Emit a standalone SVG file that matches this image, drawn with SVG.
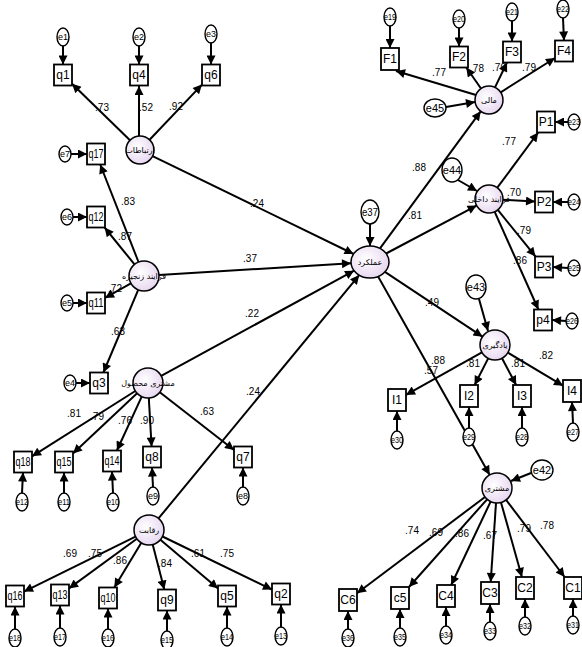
<svg xmlns="http://www.w3.org/2000/svg" width="582" height="647" viewBox="0 0 582 647">
<defs>
<marker id="ah" viewBox="0 0 10 10" refX="10" refY="5" markerWidth="11" markerHeight="9" markerUnits="userSpaceOnUse" orient="auto"><path d="M0,0 L10,5 L0,10 z" fill="#000"/></marker>
<radialGradient id="lg" cx="0.4" cy="0.4" r="0.7"><stop offset="0" stop-color="#ffffff"/><stop offset="1" stop-color="#e4d2ee"/></radialGradient>
</defs>
<style>
.c line{stroke:#000;stroke-width:2;marker-end:url(#ah)}
.box rect{fill:#fff;stroke:#000;stroke-width:1.8}
.box text{font-family:"Liberation Sans Narrow","Liberation Sans",sans-serif;font-size:12px;text-anchor:middle}
.lat circle,.lat ellipse{fill:url(#lg);stroke:#000;stroke-width:1.5}
.lat text{font-family:"DejaVu Sans",sans-serif;font-size:8px;text-anchor:middle}
.err ellipse{fill:#fff;stroke:#000;stroke-width:1.4}
.err text{font-family:"Liberation Sans Narrow","Liberation Sans",sans-serif;font-size:9px;text-anchor:middle}
.big text{font-size:11px}
.lb{font-family:"Liberation Sans Narrow","Liberation Sans",sans-serif;font-size:10px;text-anchor:middle}
</style>
<rect width="582" height="647" fill="#fff"/>
<g id="connectors" class="c">
<line x1="152.6" y1="156.1" x2="353.6" y2="254"/>
<line x1="159" y1="275.1" x2="351" y2="263.2"/>
<line x1="161.2" y1="375.8" x2="354.1" y2="270.7"/>
<line x1="158.5" y1="518.4" x2="359.2" y2="275.1"/>
<line x1="380" y1="248.4" x2="480.7" y2="111.3"/>
<line x1="386.1" y1="253.5" x2="476.6" y2="205.6"/>
<line x1="384.9" y1="271.9" x2="482.5" y2="336.7"/>
<line x1="378.1" y1="276.5" x2="489.7" y2="474.9"/>
<line x1="130" y1="140.2" x2="72" y2="83.7"/>
<line x1="139" y1="136" x2="139" y2="86"/>
<line x1="149.6" y1="139.8" x2="202" y2="84.6"/>
<line x1="138.5" y1="262" x2="100.2" y2="164.5"/>
<line x1="134.5" y1="264.4" x2="104.6" y2="227.5"/>
<line x1="130.9" y1="283.4" x2="105" y2="297.9"/>
<line x1="138.2" y1="289.8" x2="103.4" y2="372.5"/>
<line x1="135.3" y1="391" x2="32" y2="456.3"/>
<line x1="137.1" y1="393.3" x2="73" y2="453.5"/>
<line x1="141.7" y1="396.6" x2="116.9" y2="450.5"/>
<line x1="148.8" y1="398" x2="151.6" y2="446.5"/>
<line x1="159.8" y1="392.2" x2="234" y2="450"/>
<line x1="135.5" y1="536.6" x2="24" y2="591.6"/>
<line x1="136.9" y1="538.8" x2="69" y2="588.4"/>
<line x1="141.3" y1="542.8" x2="114.3" y2="587.5"/>
<line x1="152.7" y1="544.5" x2="164.3" y2="589.5"/>
<line x1="160.4" y1="539.7" x2="218" y2="588.4"/>
<line x1="162.5" y1="536.5" x2="272" y2="589.6"/>
<line x1="476" y1="95" x2="396" y2="71"/>
<line x1="481" y1="88.5" x2="466.3" y2="67.5"/>
<line x1="495" y1="87.4" x2="507" y2="62.5"/>
<line x1="500.7" y1="92.3" x2="555" y2="58"/>
<line x1="497.3" y1="187.7" x2="538.2" y2="132.5"/>
<line x1="503" y1="199.8" x2="535" y2="201.5"/>
<line x1="497.8" y1="209.9" x2="535.5" y2="256.5"/>
<line x1="494.7" y1="211.8" x2="538.4" y2="309.5"/>
<line x1="481.9" y1="352.3" x2="406" y2="394.9"/>
<line x1="488.2" y1="358.4" x2="474.6" y2="385"/>
<line x1="502" y1="358.3" x2="516.2" y2="385"/>
<line x1="507.9" y1="352.7" x2="563" y2="385.7"/>
<line x1="485" y1="497" x2="357" y2="593.3"/>
<line x1="487.1" y1="499.3" x2="409" y2="587"/>
<line x1="490.6" y1="501.6" x2="451.2" y2="585"/>
<line x1="496" y1="503" x2="490.7" y2="582"/>
<line x1="501" y1="502.4" x2="521.9" y2="577"/>
<line x1="506.1" y1="499.9" x2="564.6" y2="577"/>
<line x1="370" y1="224" x2="370" y2="246"/>
<line x1="446" y1="107" x2="475" y2="102"/>
<line x1="458" y1="180" x2="477" y2="191"/>
<line x1="479" y1="299" x2="488" y2="331"/>
<line x1="531" y1="473" x2="511" y2="481"/>
<line x1="63" y1="46" x2="63" y2="64.5"/>
<line x1="139" y1="46" x2="139" y2="64.5"/>
<line x1="211" y1="43" x2="211" y2="64.5"/>
<line x1="71" y1="154" x2="87" y2="154"/>
<line x1="73" y1="217" x2="87" y2="217"/>
<line x1="73" y1="303" x2="87" y2="303"/>
<line x1="76" y1="383" x2="90" y2="383"/>
<line x1="22" y1="493" x2="23" y2="472.5"/>
<line x1="64" y1="493" x2="64" y2="472.5"/>
<line x1="113" y1="493" x2="112" y2="471.5"/>
<line x1="153" y1="487" x2="152" y2="467.5"/>
<line x1="243" y1="487" x2="243" y2="467.5"/>
<line x1="15" y1="629" x2="15" y2="606.5"/>
<line x1="60" y1="628" x2="60" y2="605.5"/>
<line x1="108" y1="629" x2="108" y2="608.5"/>
<line x1="167" y1="631" x2="167" y2="610.5"/>
<line x1="227" y1="628" x2="227" y2="606.5"/>
<line x1="281" y1="627" x2="281" y2="604.5"/>
<line x1="390" y1="26" x2="390" y2="48"/>
<line x1="459" y1="28" x2="459" y2="46.5"/>
<line x1="512" y1="21" x2="512" y2="41.5"/>
<line x1="563" y1="18" x2="564" y2="40.5"/>
<line x1="568" y1="122" x2="555" y2="122"/>
<line x1="568" y1="202" x2="553" y2="202"/>
<line x1="568" y1="268" x2="553" y2="267"/>
<line x1="566" y1="321" x2="552" y2="320"/>
<line x1="397" y1="431" x2="397" y2="411"/>
<line x1="469" y1="428" x2="469" y2="407"/>
<line x1="522" y1="428" x2="522" y2="407"/>
<line x1="573" y1="423" x2="572" y2="402"/>
<line x1="348" y1="631" x2="348" y2="611"/>
<line x1="400" y1="628" x2="400" y2="609"/>
<line x1="446" y1="626" x2="446" y2="607"/>
<line x1="490" y1="622" x2="490" y2="604"/>
<line x1="525" y1="617" x2="525" y2="599"/>
<line x1="573" y1="616" x2="573" y2="599"/>
</g>
<g id="labels">
<text class="lb" x="102" y="111">.73</text>
<text class="lb" x="146" y="111">.52</text>
<text class="lb" x="176" y="110">.92</text>
<text class="lb" x="128" y="205">.83</text>
<text class="lb" x="125" y="240">.87</text>
<text class="lb" x="115" y="292">.72</text>
<text class="lb" x="118" y="335">.63</text>
<text class="lb" x="257" y="207">.24</text>
<text class="lb" x="250" y="262">.37</text>
<text class="lb" x="252" y="317">.22</text>
<text class="lb" x="253" y="395">.24</text>
<text class="lb" x="74" y="417">.81</text>
<text class="lb" x="97" y="420">.79</text>
<text class="lb" x="125" y="424">.76</text>
<text class="lb" x="147" y="424">.90</text>
<text class="lb" x="207" y="415">.63</text>
<text class="lb" x="70" y="557">.69</text>
<text class="lb" x="95" y="557">.75</text>
<text class="lb" x="120" y="564">.86</text>
<text class="lb" x="165" y="567">.84</text>
<text class="lb" x="198" y="557">.61</text>
<text class="lb" x="227" y="557">.75</text>
<text class="lb" x="439" y="76">.77</text>
<text class="lb" x="477" y="72">.78</text>
<text class="lb" x="499" y="71">.70</text>
<text class="lb" x="529" y="71">.79</text>
<text class="lb" x="419" y="171">.88</text>
<text class="lb" x="415" y="219">.81</text>
<text class="lb" x="509" y="145">.77</text>
<text class="lb" x="514" y="196">.70</text>
<text class="lb" x="524" y="234">.79</text>
<text class="lb" x="520" y="264">.86</text>
<text class="lb" x="432" y="306">.49</text>
<text class="lb" x="431" y="374">.57</text>
<text class="lb" x="438" y="364">.88</text>
<text class="lb" x="473" y="367">.81</text>
<text class="lb" x="518" y="367">.81</text>
<text class="lb" x="546" y="359">.82</text>
<text class="lb" x="412" y="534">.74</text>
<text class="lb" x="436" y="536">.69</text>
<text class="lb" x="462" y="537">.86</text>
<text class="lb" x="490" y="539">.67</text>
<text class="lb" x="524" y="532">.79</text>
<text class="lb" x="547" y="529">.78</text>
</g>
<g id="latent-ert" class="lat"><circle cx="140" cy="150" r="14"/><text x="140" y="153">ارتباطات</text></g>
<g id="latent-zanjire" class="lat"><circle cx="144" cy="276" r="15"/><text x="144" y="279">فرایند زنجیره</text></g>
<g id="latent-mahsool" class="lat"><circle cx="148" cy="383" r="15"/><text x="148" y="386">مشتری محصول</text></g>
<g id="latent-reghabat" class="lat"><circle cx="149" cy="530" r="15"/><text x="149" y="533">رقابت</text></g>
<g id="latent-amalkard" class="lat"><ellipse cx="370" cy="262" rx="19" ry="16"/><text x="370" y="265">عملکرد</text></g>
<g id="latent-mali" class="lat"><circle cx="489" cy="100" r="14"/><text x="489" y="103">مالی</text></g>
<g id="latent-dakheli" class="lat"><circle cx="489" cy="199" r="14"/><text x="489" y="202">فرایند داخلی</text></g>
<g id="latent-yadgiri" class="lat"><circle cx="495" cy="345" r="15"/><text x="495" y="348">یادگیری</text></g>
<g id="latent-moshtari" class="lat"><circle cx="497" cy="488" r="15"/><text x="497" y="491">مشتری</text></g>
<g id="q1" class="box"><rect x="54" y="64.5" width="18" height="21"/><text x="63" y="79">q1</text></g>
<g id="q4" class="box"><rect x="130" y="64.5" width="18" height="21"/><text x="139" y="79">q4</text></g>
<g id="q6" class="box"><rect x="202" y="64.5" width="18" height="21"/><text x="211" y="79">q6</text></g>
<g id="q17" class="box"><rect x="87" y="143.5" width="18" height="21"/><text x="96" y="158" textLength="15" lengthAdjust="spacingAndGlyphs">q17</text></g>
<g id="q12" class="box"><rect x="87" y="206.5" width="18" height="21"/><text x="96" y="221" textLength="15" lengthAdjust="spacingAndGlyphs">q12</text></g>
<g id="q11" class="box"><rect x="87" y="292.5" width="18" height="21"/><text x="96" y="307" textLength="15" lengthAdjust="spacingAndGlyphs">q11</text></g>
<g id="q3" class="box"><rect x="90" y="372.5" width="18" height="21"/><text x="99" y="387">q3</text></g>
<g id="q18" class="box"><rect x="14" y="451.5" width="18" height="21"/><text x="23" y="466" textLength="15" lengthAdjust="spacingAndGlyphs">q18</text></g>
<g id="q15" class="box"><rect x="55" y="451.5" width="18" height="21"/><text x="64" y="466" textLength="15" lengthAdjust="spacingAndGlyphs">q15</text></g>
<g id="q14" class="box"><rect x="103" y="450.5" width="18" height="21"/><text x="112" y="465" textLength="15" lengthAdjust="spacingAndGlyphs">q14</text></g>
<g id="q8" class="box"><rect x="143" y="446.5" width="18" height="21"/><text x="152" y="461">q8</text></g>
<g id="q7" class="box"><rect x="234" y="446.5" width="18" height="21"/><text x="243" y="461">q7</text></g>
<g id="q16" class="box"><rect x="6" y="585.5" width="18" height="21"/><text x="15" y="600" textLength="15" lengthAdjust="spacingAndGlyphs">q16</text></g>
<g id="q13" class="box"><rect x="51" y="584.5" width="18" height="21"/><text x="60" y="599" textLength="15" lengthAdjust="spacingAndGlyphs">q13</text></g>
<g id="q10" class="box"><rect x="99" y="587.5" width="18" height="21"/><text x="108" y="602" textLength="15" lengthAdjust="spacingAndGlyphs">q10</text></g>
<g id="q9" class="box"><rect x="158" y="589.5" width="18" height="21"/><text x="167" y="604">q9</text></g>
<g id="q5" class="box"><rect x="218" y="585.5" width="18" height="21"/><text x="227" y="600">q5</text></g>
<g id="q2" class="box"><rect x="272" y="583.5" width="18" height="21"/><text x="281" y="598">q2</text></g>
<g id="F1" class="box"><rect x="381" y="48" width="18" height="22"/><text x="390" y="63">F1</text></g>
<g id="F2" class="box"><rect x="450" y="46.5" width="18" height="21"/><text x="459" y="61">F2</text></g>
<g id="F3" class="box"><rect x="503" y="41.5" width="18" height="21"/><text x="512" y="56">F3</text></g>
<g id="F4" class="box"><rect x="555" y="40.5" width="18" height="21"/><text x="564" y="55">F4</text></g>
<g id="P1" class="box"><rect x="537" y="111.5" width="18" height="21"/><text x="546" y="126">P1</text></g>
<g id="P2" class="box"><rect x="535" y="191.5" width="18" height="21"/><text x="544" y="206">P2</text></g>
<g id="P3" class="box"><rect x="535" y="256.5" width="18" height="21"/><text x="544" y="271">P3</text></g>
<g id="p4" class="box"><rect x="534" y="309.5" width="18" height="21"/><text x="543" y="324">p4</text></g>
<g id="I1" class="box"><rect x="388" y="389" width="18" height="22"/><text x="397" y="404">I1</text></g>
<g id="I2" class="box"><rect x="460" y="385" width="18" height="22"/><text x="469" y="400">I2</text></g>
<g id="I3" class="box"><rect x="513" y="385" width="18" height="22"/><text x="522" y="400">I3</text></g>
<g id="I4" class="box"><rect x="563" y="380" width="18" height="22"/><text x="572" y="395">I4</text></g>
<g id="C6" class="box"><rect x="339" y="589" width="18" height="22"/><text x="348" y="604">C6</text></g>
<g id="c5" class="box"><rect x="391" y="587" width="18" height="22"/><text x="400" y="602">c5</text></g>
<g id="C4" class="box"><rect x="437" y="585" width="18" height="22"/><text x="446" y="600">C4</text></g>
<g id="C3" class="box"><rect x="481" y="582" width="18" height="22"/><text x="490" y="597">C3</text></g>
<g id="C2" class="box"><rect x="516" y="577" width="18" height="22"/><text x="525" y="592">C2</text></g>
<g id="C1" class="box"><rect x="564" y="577" width="18" height="22"/><text x="573" y="592">C1</text></g>
<g id="e1" class="err"><ellipse cx="63" cy="37" rx="6" ry="9"/><text x="63" y="40">e1</text></g>
<g id="e2" class="err"><ellipse cx="139" cy="37" rx="6" ry="9"/><text x="139" y="40">e2</text></g>
<g id="e3" class="err"><ellipse cx="211" cy="34" rx="6" ry="9"/><text x="211" y="37">e3</text></g>
<g id="e7" class="err"><ellipse cx="65" cy="154" rx="6" ry="8"/><text x="65" y="157">e7</text></g>
<g id="e6" class="err"><ellipse cx="67" cy="217" rx="6" ry="8"/><text x="67" y="220">e6</text></g>
<g id="e5" class="err"><ellipse cx="67" cy="303" rx="6" ry="8"/><text x="67" y="306">e5</text></g>
<g id="e4" class="err"><ellipse cx="70" cy="383" rx="6" ry="8"/><text x="70" y="386">e4</text></g>
<g id="e12" class="err"><ellipse cx="22" cy="502" rx="6" ry="9"/><text x="22" y="505" textLength="12" lengthAdjust="spacingAndGlyphs">e12</text></g>
<g id="e11" class="err"><ellipse cx="64" cy="502" rx="6" ry="9"/><text x="64" y="505" textLength="12" lengthAdjust="spacingAndGlyphs">e11</text></g>
<g id="e10" class="err"><ellipse cx="113" cy="502" rx="6" ry="9"/><text x="113" y="505" textLength="12" lengthAdjust="spacingAndGlyphs">e10</text></g>
<g id="e9" class="err"><ellipse cx="153" cy="496" rx="6" ry="9"/><text x="153" y="499">e9</text></g>
<g id="e8" class="err"><ellipse cx="243" cy="496" rx="6" ry="9"/><text x="243" y="499">e8</text></g>
<g id="e18" class="err"><ellipse cx="15" cy="638" rx="6" ry="9"/><text x="15" y="641" textLength="12" lengthAdjust="spacingAndGlyphs">e18</text></g>
<g id="e17" class="err"><ellipse cx="60" cy="637" rx="6" ry="9"/><text x="60" y="640" textLength="12" lengthAdjust="spacingAndGlyphs">e17</text></g>
<g id="e16" class="err"><ellipse cx="108" cy="638" rx="6" ry="9"/><text x="108" y="641" textLength="12" lengthAdjust="spacingAndGlyphs">e16</text></g>
<g id="e15" class="err"><ellipse cx="167" cy="640" rx="6" ry="9"/><text x="167" y="643" textLength="12" lengthAdjust="spacingAndGlyphs">e15</text></g>
<g id="e14" class="err"><ellipse cx="227" cy="637" rx="6" ry="9"/><text x="227" y="640" textLength="12" lengthAdjust="spacingAndGlyphs">e14</text></g>
<g id="e13" class="err"><ellipse cx="281" cy="636" rx="6" ry="9"/><text x="281" y="639" textLength="12" lengthAdjust="spacingAndGlyphs">e13</text></g>
<g id="e19" class="err"><ellipse cx="390" cy="17" rx="6" ry="9"/><text x="390" y="20" textLength="12" lengthAdjust="spacingAndGlyphs">e19</text></g>
<g id="e20" class="err"><ellipse cx="459" cy="19" rx="6" ry="9"/><text x="459" y="22" textLength="12" lengthAdjust="spacingAndGlyphs">e20</text></g>
<g id="e21" class="err"><ellipse cx="512" cy="12" rx="6" ry="9"/><text x="512" y="15" textLength="12" lengthAdjust="spacingAndGlyphs">e21</text></g>
<g id="e22" class="err"><ellipse cx="563" cy="9" rx="6" ry="9"/><text x="563" y="12" textLength="12" lengthAdjust="spacingAndGlyphs">e22</text></g>
<g id="e23" class="err"><ellipse cx="574" cy="122" rx="6" ry="8"/><text x="574" y="125" textLength="12" lengthAdjust="spacingAndGlyphs">e23</text></g>
<g id="e24" class="err"><ellipse cx="574" cy="202" rx="6" ry="8"/><text x="574" y="205" textLength="12" lengthAdjust="spacingAndGlyphs">e24</text></g>
<g id="e25" class="err"><ellipse cx="574" cy="268" rx="6" ry="8"/><text x="574" y="271" textLength="12" lengthAdjust="spacingAndGlyphs">e25</text></g>
<g id="e26" class="err"><ellipse cx="572" cy="321" rx="6" ry="8"/><text x="572" y="324" textLength="12" lengthAdjust="spacingAndGlyphs">e26</text></g>
<g id="e30" class="err"><ellipse cx="397" cy="440" rx="6" ry="9"/><text x="397" y="443" textLength="12" lengthAdjust="spacingAndGlyphs">e30</text></g>
<g id="e29" class="err"><ellipse cx="469" cy="437" rx="6" ry="9"/><text x="469" y="440" textLength="12" lengthAdjust="spacingAndGlyphs">e29</text></g>
<g id="e28" class="err"><ellipse cx="522" cy="437" rx="6" ry="9"/><text x="522" y="440" textLength="12" lengthAdjust="spacingAndGlyphs">e28</text></g>
<g id="e27" class="err"><ellipse cx="573" cy="432" rx="6" ry="9"/><text x="573" y="435" textLength="12" lengthAdjust="spacingAndGlyphs">e27</text></g>
<g id="e36" class="err"><ellipse cx="348" cy="638" rx="6" ry="9"/><text x="348" y="641" textLength="12" lengthAdjust="spacingAndGlyphs">e36</text></g>
<g id="e35" class="err"><ellipse cx="400" cy="637" rx="6" ry="9"/><text x="400" y="640" textLength="12" lengthAdjust="spacingAndGlyphs">e35</text></g>
<g id="e34" class="err"><ellipse cx="446" cy="635" rx="6" ry="9"/><text x="446" y="638" textLength="12" lengthAdjust="spacingAndGlyphs">e34</text></g>
<g id="e33" class="err"><ellipse cx="490" cy="631" rx="6" ry="9"/><text x="490" y="634" textLength="12" lengthAdjust="spacingAndGlyphs">e33</text></g>
<g id="e32" class="err"><ellipse cx="525" cy="626" rx="6" ry="9"/><text x="525" y="629" textLength="12" lengthAdjust="spacingAndGlyphs">e32</text></g>
<g id="e31" class="err"><ellipse cx="573" cy="625" rx="6" ry="9"/><text x="573" y="628" textLength="12" lengthAdjust="spacingAndGlyphs">e31</text></g>
<g id="e37" class="err big"><ellipse cx="370" cy="212" rx="9" ry="12"/><text x="370" y="216" textLength="16" lengthAdjust="spacingAndGlyphs">e37</text></g>
<g id="e45" class="err big"><ellipse cx="435" cy="108" rx="11" ry="9"/><text x="435" y="112">e45</text></g>
<g id="e44" class="err big"><ellipse cx="452" cy="170" rx="10" ry="12"/><text x="452" y="174">e44</text></g>
<g id="e43" class="err big"><ellipse cx="476" cy="287" rx="10" ry="12"/><text x="476" y="291">e43</text></g>
<g id="e42" class="err big"><ellipse cx="542" cy="470" rx="11" ry="10"/><text x="542" y="474">e42</text></g>
</svg>
